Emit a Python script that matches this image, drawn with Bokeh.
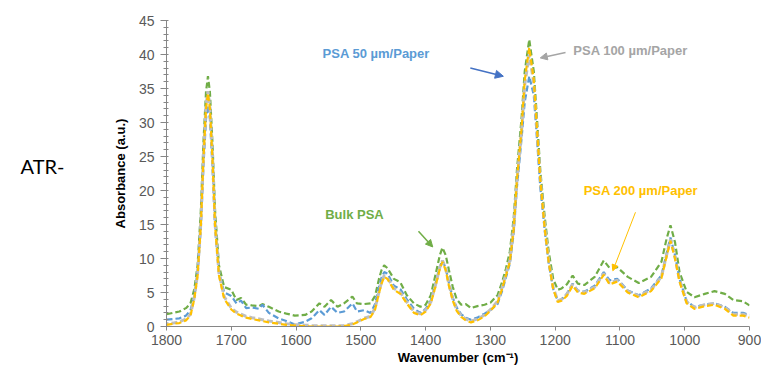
from bokeh.plotting import figure
from bokeh.layouts import row
from bokeh.models import (Range1d, SingleIntervalTicker, Label, Arrow, NormalHead)
from bokeh.core.properties import value
from bokeh.embed import file_html
from bokeh.resources import INLINE

wavenumber = [1800, 1790, 1780, 1770, 1763, 1757, 1752, 1747, 1743, 1739, 1736, 1733, 1729, 1725, 1719, 1711, 1700,
              1692, 1685, 1677, 1668, 1657, 1652, 1642, 1627, 1615, 1602, 1586, 1576, 1564, 1556, 1546, 1536, 1526, 1513, 1506, 1495, 1485, 1478,
              1472, 1468, 1464, 1459, 1449, 1439, 1429, 1418, 1408, 1400, 1392, 1385, 1378, 1374, 1369, 1364, 1358, 1352, 1345, 1338, 1330, 1320, 1309, 1300,
              1289, 1282, 1276, 1270, 1264, 1259, 1252, 1247, 1240, 1233, 1228, 1223, 1216, 1210, 1203, 1196, 1190, 1182, 1173,
              1165, 1155, 1139, 1125, 1116, 1104, 1088, 1071, 1052, 1036, 1028, 1022, 1015, 1008, 997, 985, 969, 954, 938, 925, 910, 900]

bulk_psa = [1.8, 2.0, 2.2, 2.7, 3.4, 5.5, 9.0, 17, 27, 34.5, 36.8, 34.5, 27, 17, 9.0, 5.8, 5.4,
            3.9, 4.2, 3.2, 3.1, 3.0, 3.3, 2.9, 2.2, 1.9, 1.6, 1.7, 2.2, 3.4, 2.9, 3.9, 2.9, 3.4, 4.4, 3.4, 3.3, 3.4, 4.5,
            7.0, 8.3, 9.0, 8.6, 7.0, 6.5, 4.6, 3.4, 2.9, 3.2, 4.6, 7.5, 10.5, 11.6, 10.5, 8.3, 5.8, 4.0, 3.2, 3.3, 2.7, 3.0, 3.2, 3.5,
            4.6, 6.5, 8.5, 11, 16, 23, 30.5, 37.5, 42.2, 37.5, 30.5, 23, 16, 11, 7.0, 5.4, 5.6, 6.2, 7.5,
            6.3, 6.1, 7.3, 9.7, 8.6, 8.7, 7.3, 6.4, 7.3, 9.5, 12.9, 14.9, 12.4, 8.0, 5.1, 4.3, 4.8, 5.2, 4.8, 3.9, 3.7, 3.1]

psa_50 = [1.0, 1.1, 1.2, 1.6, 2.4, 4.5, 8.0, 14.5, 23.5, 30.5, 32.5, 30.5, 23.5, 14.5, 8.0, 5.0, 4.5,
          3.4, 3.8, 2.7, 2.8, 2.6, 3.2, 2.0, 1.2, 0.8, 0.3, 0.7, 1.2, 2.4, 1.7, 2.9, 2.0, 2.2, 3.4, 2.2, 2.4, 2.0, 3.3,
          5.8, 7.2, 8.0, 7.8, 6.0, 5.5, 4.0, 2.6, 2.0, 2.6, 3.8, 6.2, 8.8, 9.7, 8.6, 6.5, 4.2, 2.8, 1.8, 1.3, 1.0, 1.3, 1.9, 2.4,
          3.3, 5.2, 7.2, 9.2, 13.8, 20.5, 27.5, 33, 36.8, 34, 27.5, 20.5, 14, 9.3, 5.5, 3.8, 4.0, 4.8, 6.3,
          5.3, 5.1, 6.0, 8.0, 6.8, 7.0, 5.3, 4.6, 5.6, 7.5, 10.7, 13.1, 10.5, 7.0, 3.7, 2.9, 3.2, 3.4, 2.9, 2.0, 2.0, 1.7]

psa_100 = [0.4, 0.5, 0.7, 1.1, 1.8, 4.3, 7.8, 15.2, 25, 32.5, 34.6, 32.3, 25, 15.2, 7.8, 4.4, 2.7,
           2.1, 1.8, 1.5, 1.3, 1.1, 1.0, 0.8, 0.6, 0.4, 0.3, 0.2, 0.15, 0.1, 0.1, 0.1, 0.1, 0.15, 0.4, 0.7, 1.2, 1.5, 2.7,
           5.1, 6.5, 7.5, 7.2, 5.6, 5.0, 3.6, 2.2, 1.85, 2.4, 3.6, 6.0, 8.7, 9.7, 8.5, 6.2, 4.0, 2.5, 1.6, 1.1, 0.8, 1.1, 1.7, 2.5,
           3.7, 5.7, 7.7, 9.7, 14.6, 21.4, 28.6, 35.5, 40, 35.8, 28.8, 21.8, 14.6, 9.7, 5.7, 3.8, 4.0, 4.7, 6.2,
           5.2, 5.0, 5.8, 7.8, 6.4, 6.8, 5.2, 4.5, 5.4, 7.3, 10.5, 12.8, 10.2, 6.8, 3.6, 2.8, 3.2, 3.4, 2.8, 1.8, 1.8, 1.5]

psa_200 = [0.25, 0.4, 0.5, 0.9, 1.6, 4.1, 7.5, 14.8, 24.5, 32, 34.3, 32, 24.5, 14.8, 7.5, 4.1, 2.5,
           1.9, 1.6, 1.3, 1.1, 0.9, 0.8, 0.6, 0.4, 0.25, 0.15, 0.05, 0, 0, 0, 0, 0, 0.05, 0.3, 0.6, 1.1, 1.4, 2.5,
           4.9, 6.3, 7.3, 7.0, 5.4, 4.8, 3.4, 2.0, 1.65, 2.2, 3.4, 5.8, 8.5, 9.5, 8.3, 6.0, 3.8, 2.3, 1.4, 0.9, 0.6, 0.9, 1.5, 2.3,
           3.5, 5.5, 7.5, 9.5, 14.3, 21.6, 28.9, 36.2, 41, 36.2, 28.9, 21.6, 14.3, 9.5, 5.5, 3.6, 3.8, 4.5, 6.0,
           5.0, 4.8, 5.6, 7.6, 6.2, 6.6, 5.0, 4.3, 5.2, 7.1, 10.3, 12.6, 10.0, 6.6, 3.4, 2.6, 3.0, 3.2, 2.6, 1.6, 1.6, 1.3]

# annotations: (text, x, y, colour)
labels = [("PSA 50 µm/Paper", 1559, 40.2, "#5B9BD5"),
          ("PSA 100 µm/Paper", 1172, 40.6, "#A5A5A5"),
          ("Bulk PSA", 1555, 16.5, "#70AD47"),
          ("PSA 200 µm/Paper", 1156, 20.0, "#FFC000")]
# arrows: (x_start, y_start, x_end, y_end, colour, head size)
arrows = [(1331, 38.0, 1280, 36.8, "#4472C4", 8),
          (1184, 40.3, 1223, 39.5, "#A5A5A5", 7),
          (1411, 14.0, 1389, 11.7, "#70AD47", 7),
          (1076, 16.8, 1111, 8.2, "#FFC000", 6)]

side_text = ["ATR-"]

# left strip holding the "ATR-" caption
side = figure(width=100, height=367, output_backend="svg", toolbar_location=None,
              x_range=Range1d(0, 100), y_range=Range1d(0, 367),
              min_border=0)
side.axis.visible = False
side.grid.visible = False
side.outline_line_color = None
side.text(x=[20], y=[192], text=side_text, text_font=value("Lato"),
          text_font_size="20px", text_color="black",
          text_align="left", text_baseline="middle")

p = figure(width=661, height=367, output_backend="svg", toolbar_location=None,
           x_range=Range1d(1800, 900), y_range=Range1d(0, 45),
           min_border_left=66, min_border_right=12, min_border_top=20,
           min_border_bottom=39)
p.outline_line_color = None
p.xgrid.visible = False
p.ygrid.visible = False
p.background_fill_color = "white"
p.border_fill_color = "white"

p.line(wavenumber, bulk_psa, line_color="#70AD47", line_width=2.2, line_dash="6 3")
p.line(wavenumber, psa_50, line_color="#5B9BD5", line_width=2.2, line_dash="6 3")
p.line(wavenumber, psa_100, line_color="#BFBFBF", line_width=3, line_dash="6 3",
       line_dash_offset=4)
p.line(wavenumber, psa_200, line_color="#FFC000", line_width=2.2, line_dash="6 3")

font = "Liberation Sans"
xa = p.xaxis[0]
xa.ticker = SingleIntervalTicker(interval=100, num_minor_ticks=0)
xa.axis_label = "Wavenumber (cm⁻¹)"
xa.axis_label_text_font = font
xa.axis_label_text_font_style = "bold"
xa.axis_label_text_font_size = "13px"
xa.axis_label_text_color = "black"
xa.axis_label_standoff = 2
xa.major_label_text_font = font
xa.major_label_text_font_size = "14px"
xa.major_label_text_color = "#595959"
xa.major_label_standoff = 4
xa.axis_line_color = "#868686"
xa.major_tick_line_color = "#868686"
xa.major_tick_in = 0
xa.major_tick_out = 4
xa.minor_tick_line_color = None

ya = p.yaxis[0]
ya.ticker = SingleIntervalTicker(interval=5, num_minor_ticks=5)
ya.axis_label = "Absorbance (a.u.)"
ya.axis_label_text_font = font
ya.axis_label_text_font_style = "bold"
ya.axis_label_text_font_size = "13px"
ya.axis_label_text_color = "black"
ya.axis_label_standoff = 8
ya.major_label_text_font = font
ya.major_label_text_font_size = "14px"
ya.major_label_text_color = "#595959"
ya.major_label_standoff = 6
ya.axis_line_color = "#868686"
ya.major_tick_line_color = "#868686"
ya.major_tick_in = 0
ya.major_tick_out = 6
ya.minor_tick_line_color = "#868686"
ya.minor_tick_in = 2
ya.minor_tick_out = 3

for text, x, y, c in labels:
    p.add_layout(Label(x=x, y=y, text=text, text_color=c, text_font=font,
                       text_font_style="bold", text_font_size="13px",
                       text_align="left", text_baseline="middle"))

for xs, ys, xe, ye, c, s in arrows:
    p.add_layout(Arrow(x_start=xs, y_start=ys, x_end=xe, y_end=ye,
                       line_color=c, line_width=1.5 if s > 6 else 1,
                       end=NormalHead(size=s, fill_color=c, line_color=c)))

layout = row(side, p, spacing=0)
open("out.html", "w").write(file_html(layout, INLINE))
